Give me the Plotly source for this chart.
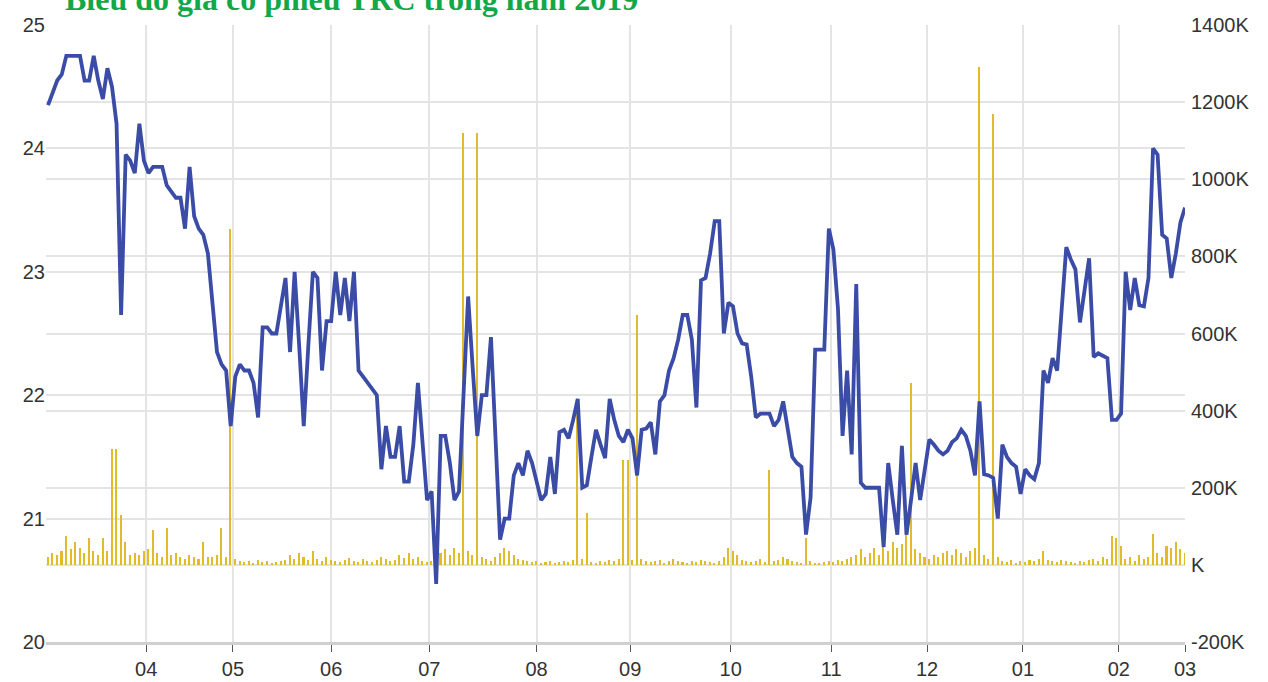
import plotly.graph_objects as go

# ---------------- data ----------------
title_text = "Biểu đồ giá cổ phiếu TRC trong năm 2019"

month_labels = ["04", "05", "06", "07", "08", "09", "10", "11", "12", "01", "02", "03"]
# month boundaries expressed in trading-session index
month_ticks = [21.5, 40.5, 62, 83.5, 107, 127.5, 149.5, 171.5, 192.5, 213.5, 234.5, 249]

# daily close price (thousand VND), one value per trading session
price = [
    24.35, 24.45, 24.55, 24.6, 24.75, 24.75, 24.75, 24.75, 24.55, 24.55,
    24.75, 24.55, 24.4, 24.65, 24.5, 24.2, 22.65, 23.95, 23.9, 23.8,
    24.2, 23.9, 23.8, 23.85, 23.85, 23.85, 23.7, 23.65, 23.6, 23.6,
    23.35, 23.85, 23.45, 23.35, 23.3, 23.15, 22.75, 22.35, 22.25, 22.2,
    21.75, 22.15, 22.25, 22.2, 22.2, 22.1, 21.82, 22.55, 22.55, 22.5,
    22.5, 22.75, 22.95, 22.35, 23.0, 22.4, 21.75, 22.4, 23.0, 22.95,
    22.2, 22.6, 22.6, 23.0, 22.65, 22.95, 22.6, 23.0, 22.2, 22.15,
    22.1, 22.05, 22.0, 21.4, 21.75, 21.5, 21.5, 21.75, 21.3, 21.3,
    21.6, 22.1, 21.65, 21.15, 21.22, 20.47, 21.67, 21.67, 21.45, 21.15,
    21.22, 22.0, 22.8, 22.22, 21.67, 22.0, 22.0, 22.47, 21.65, 20.83,
    21.0, 21.0, 21.35, 21.45, 21.35, 21.55, 21.45, 21.3, 21.15, 21.2,
    21.5, 21.2, 21.7, 21.72, 21.65, 21.8, 21.97, 21.25, 21.27, 21.5,
    21.72, 21.6, 21.49, 21.97, 21.8, 21.67, 21.62, 21.72, 21.65, 21.35,
    21.72, 21.73, 21.78, 21.52, 21.95, 22.0, 22.2, 22.3, 22.45, 22.65,
    22.65, 22.45, 21.9, 22.93, 22.95, 23.15, 23.41, 23.41, 22.5, 22.75,
    22.72, 22.5, 22.42, 22.41, 22.15, 21.82, 21.85, 21.85, 21.85, 21.75,
    21.8, 21.95, 21.7, 21.5, 21.45, 21.42, 20.87, 21.17, 22.37, 22.37,
    22.37, 23.35, 23.18, 22.7, 21.67, 22.2, 21.52, 22.9, 21.29, 21.25,
    21.25, 21.25, 21.25, 20.77, 21.45, 21.15, 20.87, 21.59, 20.87, 21.15,
    21.45, 21.15, 21.4, 21.64, 21.6, 21.55, 21.52, 21.55, 21.62, 21.65,
    21.72, 21.67, 21.55, 21.35, 21.95, 21.36, 21.35, 21.33, 21.0, 21.6,
    21.5, 21.45, 21.42, 21.2, 21.4, 21.35, 21.32, 21.45, 22.2, 22.1,
    22.3, 22.2, 22.7, 23.2, 23.1, 23.02, 22.59, 22.85, 23.11, 22.31,
    22.34, 22.32, 22.3, 21.8, 21.8, 21.85, 23.0, 22.69, 22.95, 22.73,
    22.72, 22.95, 24.0, 23.95, 23.3, 23.27, 22.95, 23.15, 23.4, 23.52,
]

# daily volume (thousand shares)
volume_k = [
    20, 30, 25, 35, 75, 40, 60, 45, 30, 70,
    35, 25, 70, 35, 300, 300, 130, 60, 25, 30,
    25, 35, 40, 90, 30, 20, 95, 25, 30, 20,
    15, 25, 20, 15, 60, 20, 20, 25, 95, 20,
    870, 15, 10, 8, 10, 6, 12, 8, 10, 6,
    8, 10, 12, 25, 15, 30, 20, 12, 35, 15,
    10, 20, 12, 10, 8, 12, 18, 10, 8, 15,
    10, 8, 12, 20, 15, 10, 12, 25, 18, 30,
    15, 20, 10, 8, 10, 15, 30, 40, 25, 45,
    30, 1120, 35, 25, 1120, 20, 15, 10, 20, 30,
    45, 35, 25, 15, 12, 10, 8, 10, 6, 8,
    10, 6, 8, 10, 8, 12, 430, 15, 135, 8,
    6, 10, 8, 12, 10, 15, 272, 272, 12, 648,
    15, 10, 8, 10, 12, 6, 10, 15, 10, 8,
    6, 10, 8, 12, 10, 8, 6, 10, 20, 45,
    35, 25, 12, 10, 8, 10, 15, 8, 245, 10,
    12, 20, 15, 10, 8, 6, 70, 10, 5, 6,
    8, 10, 8, 12, 10, 15, 20, 25, 40, 20,
    30, 45, 25, 50, 35, 60, 45, 55, 90, 472,
    40, 30, 20, 15, 25, 20, 30, 35, 25, 40,
    30, 20, 35, 45, 1290, 25, 15, 1170, 20, 10,
    8, 12, 6, 10, 8, 12, 10, 15, 35, 12,
    10, 8, 12, 10, 8, 6, 10, 8, 12, 15,
    10, 20, 15, 75, 70, 50, 15, 20, 10, 25,
    15, 20, 80, 30, 20, 50, 45, 60, 40, 30,
]

volume_ticks_k = [-200, 0, 200, 400, 600, 800, 1000, 1200, 1400]
price_ticks = [20, 21, 22, 23, 24, 25]

# ---------------- figure ----------------
sessions = list(range(len(price)))
volume = [v * 1000 for v in volume_k]
vol_tickvals = [v * 1000 for v in volume_ticks_k]
vol_ticktext = [("K" if v == 0 else f"{v}K") for v in volume_ticks_k]

FONT = "Liberation Sans, Arial, sans-serif"
GRID = "#e4e4e4"

fig = go.Figure()
fig.add_trace(go.Bar(
    x=sessions, y=volume, yaxis="y",
    marker=dict(color="#e0bc2c", line=dict(width=0)),
    width=0.34, showlegend=False, hoverinfo="skip",
))
fig.add_trace(go.Scatter(
    x=sessions, y=price, yaxis="y2", mode="lines",
    line=dict(color="#3a4ca6", width=3.8),
    showlegend=False,
))

fig.update_layout(
    width=1268, height=682,
    margin=dict(l=46, r=83, t=25, b=40, autoexpand=False),
    paper_bgcolor="white", plot_bgcolor="white",
    bargap=0,
    xaxis=dict(
        range=[-0.45, 249], tickvals=month_ticks, ticktext=month_labels,
        showgrid=True, gridcolor=GRID, gridwidth=1.5,
        ticks="outside", ticklen=7, tickcolor="#555", tickwidth=1,
        showline=True, linecolor="#cfcfcf", linewidth=3,
        tickfont=dict(family=FONT, size=20, color="#333"),
        zeroline=False, automargin=False,
    ),
    yaxis=dict(
        side="right", range=[-200000, 1400000],
        tickvals=vol_tickvals, ticktext=vol_ticktext,
        showgrid=True, gridcolor=GRID, gridwidth=1.5,
        zeroline=False, ticks="", ticklabelstandoff=5,
        tickfont=dict(family=FONT, size=20, color="#333"),
        automargin=False,
    ),
    yaxis2=dict(
        side="left", overlaying="y", range=[20, 25],
        tickvals=price_ticks,
        showgrid=True, gridcolor=GRID, gridwidth=1.5,
        zeroline=False, ticks="",
        tickfont=dict(family=FONT, size=20, color="#333"),
        automargin=False,
    ),
    annotations=[dict(
        text=f"<b>{title_text}</b>", xref="paper", yref="paper",
        x=0.015, y=1.0097, xanchor="left", yanchor="bottom",
        showarrow=False,
        font=dict(family="Liberation Serif, Times New Roman, serif", size=32, color="#12a84a"),
    )],
)

fig.write_html(
    "out.html",
    config={"displayModeBar": False},
    post_script="document.body.style.margin='0px';document.body.style.overflow='hidden';",
)
